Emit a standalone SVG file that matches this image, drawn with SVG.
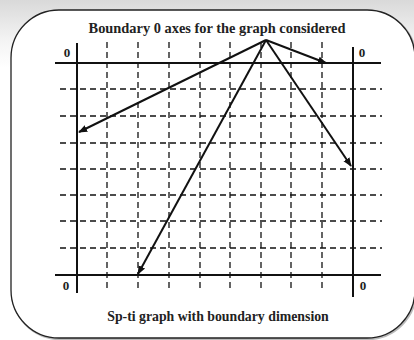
<svg xmlns="http://www.w3.org/2000/svg" width="414" height="340" viewBox="0 0 414 340">
<defs>
<linearGradient id="bg" x1="0" y1="0" x2="0" y2="1">
<stop offset="0" stop-color="#d9d9d9"/>
<stop offset="0.12" stop-color="#f4f4f4"/>
<stop offset="0.2" stop-color="#ffffff"/>
<stop offset="1" stop-color="#ffffff"/>
</linearGradient>
<marker id="ah" viewBox="0 0 10 10" refX="9" refY="5" markerWidth="4.5" markerHeight="4.5" orient="auto" markerUnits="strokeWidth">
<path d="M0,1 L10,5 L0,9 z" fill="#111"/>
</marker>
<style>
.ax{stroke:#111;stroke-width:2;fill:none}
.dash{stroke:#111;stroke-width:1.3;stroke-dasharray:6,4;fill:none}
.arr{stroke:#111;stroke-width:2;fill:none;marker-end:url(#ah)}
.t{font-family:"Liberation Serif",serif;font-weight:bold;fill:#222}
</style>
</defs>
<rect x="0" y="0" width="414" height="340" fill="url(#bg)"/>
<rect x="12" y="11" width="404" height="328" rx="48" ry="48" fill="none" stroke="#bbb" stroke-width="2"/>
<rect x="11" y="10" width="404" height="328" rx="48" ry="48" fill="#fff" stroke="#222" stroke-width="1.3"/>
<g id="grid">
<g class="dash">
<path d="M107,42V292M138,42V292M169,42V292M200,42V292M230,42V292M261,42V292M291,42V292M322,42V292"/>
<path d="M60,89H382M60,116H382M60,143H382M60,169H382M60,195H382M60,221H382M60,248H382"/>
</g>
<g class="ax">
<path d="M77,43V293M353,47V297M55,63H381M55,275H381"/>
</g>
</g>
<g id="labels">
<text class="t" x="217" y="33" font-size="14.4" text-anchor="middle">Boundary 0 axes for the graph considered</text>
<text class="t" x="218" y="321" font-size="13.8" text-anchor="middle">Sp-ti graph with boundary dimension</text>
<text class="t" x="67" y="57" font-size="13" text-anchor="middle">0</text>
<text class="t" x="362" y="57" font-size="13" text-anchor="middle">0</text>
<text class="t" x="66" y="290" font-size="13" text-anchor="middle">0</text>
<text class="t" x="363" y="290" font-size="13" text-anchor="middle">0</text>
</g>
<g id="connectors">
<path class="arr" d="M266,40L79,132"/>
<path class="arr" d="M266,40L326,63"/>
<path class="arr" d="M266,40L351,166"/>
<path class="arr" d="M266,40L138,274"/>
</g>
</svg>
